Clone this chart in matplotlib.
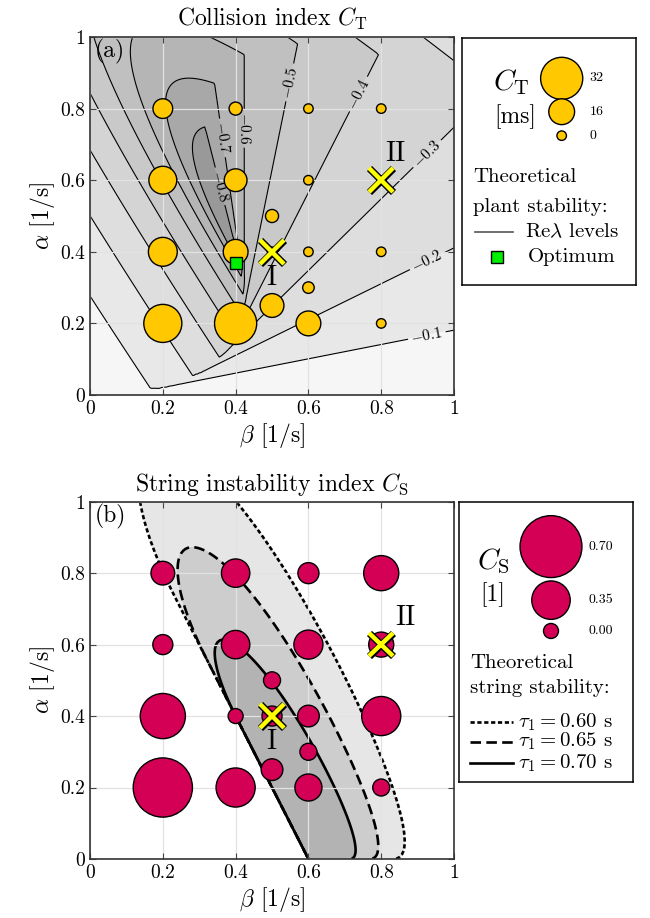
from math import factorial

import numpy as np
import matplotlib
matplotlib.use('Agg')
import matplotlib.pyplot as plt
import matplotlib.patheffects as pe

plt.rcParams['font.family'] = ['cmr10', 'DejaVu Serif']
plt.rcParams['mathtext.fontset'] = 'cm'
plt.rcParams['axes.formatter.use_mathtext'] = True
plt.rcParams['axes.unicode_minus'] = False

# model: v' = alpha*(k*h - v)(t-tau) + beta*(v_L - v)(t-tau)
k_v = 0.6
tau_plant = 0.58
tau_string = [0.60, 0.65, 0.70]

# measured points (beta, alpha)
beta_pts = [0.2, 0.4, 0.6, 0.8, 0.2, 0.4, 0.6, 0.8, 0.5, 0.2, 0.4, 0.5, 0.6, 0.8, 0.6, 0.5, 0.2, 0.4, 0.6, 0.8]
alpha_pts = [0.8, 0.8, 0.8, 0.8, 0.6, 0.6, 0.6, 0.6, 0.5, 0.4, 0.4, 0.4, 0.4, 0.4, 0.3, 0.25, 0.2, 0.2, 0.2, 0.2]
ct_vals = [10, 3.5, 0, 0, 18, 13, 0, np.nan, 3.5, 19, 15, 0, 0, 0, 2, 14, 28, 32, 15, 0]
cs_vals = [0.13, 0.20, 0.09, 0.30, 0.075, 0.20, 0.21, 0.15, 0.03, 0.45, 0.0, 0.075, 0.10, 0.36, 0.03, 0.10, 0.66, 0.36, 0.18, 0.03]

point_names = ['I', 'II']
point_beta = [0.5, 0.8]
point_alpha = [0.4, 0.6]
opt_beta, opt_alpha = 0.4, 0.37

ct_legend = [32, 16, 0]
cs_legend = [0.70, 0.35, 0.00]
re_levels = [-0.8, -0.7, -0.6, -0.5, -0.4, -0.3, -0.2, -0.1]
tick_vals = [0, 0.2, 0.4, 0.6, 0.8, 1]
tick_labels = ['0', '0.2', '0.4', '0.6', '0.8', '1']

yellow = '#ffc800'
crimson = '#d40055'


def ct_size(v):
    return ((9.5 + 1.02 * np.asarray(v, float)) * 0.72) ** 2


def cs_size(v):
    return ((15 + 67 * np.asarray(v, float)) * 0.72) ** 2


def rightmost_root(a, b, tau, n=10):
    # s^2 + exp(-s tau) (a s + b) = 0: pade start, newton on the exact equation
    c = np.array([factorial(2 * n - j) * factorial(n) /
                  (factorial(2 * n) * factorial(j) * factorial(n - j)) for j in range(n + 1)])
    m = n + 2
    coef = np.zeros((a.size, m + 1))
    for j in range(n + 1):
        coef[:, j + 2] += c[j] * tau ** j
        coef[:, j + 1] += a * c[j] * (-tau) ** j
        coef[:, j] += b * c[j] * (-tau) ** j
    coef = coef / coef[:, -1:]
    comp = np.zeros((a.size, m, m))
    comp[:, np.arange(1, m), np.arange(m - 1)] = 1.0
    comp[:, :, -1] = -coef[:, :m]
    roots = np.linalg.eigvals(comp)
    lam = roots[np.arange(a.size), np.argmax(roots.real, axis=1)]
    for _ in range(15):
        e = np.exp(-lam * tau)
        h = lam ** 2 + e * (a * lam + b)
        dh = 2 * lam + e * (a - tau * (a * lam + b))
        step = h / np.where(np.abs(dh) < 1e-12, 1e-12, dh)
        lam = np.where(np.abs(step) < 0.5, lam - step, lam)
    return lam.real


# plant stability field
bg = np.linspace(0, 1, 201)
B, A = np.meshgrid(bg, bg)
re_lam = rightmost_root((A + B).ravel(), (A * k_v).ravel(), tau_plant).reshape(A.shape)

# string stability: min over omega of (|den|^2 - |num|^2) / omega^2
bs = np.linspace(0, 1, 161)
as_ = np.linspace(0.001, 1, 161)
BS, AS = np.meshgrid(bs, as_)
omegas = np.linspace(0.001, 7, 900)
string_fields = []
for tau in tau_string:
    fmin = np.full(BS.shape, np.inf)
    for w in omegas:
        f = w ** 2 - 2 * AS * k_v * np.cos(w * tau) - 2 * (AS + BS) * w * np.sin(w * tau) + AS ** 2 + 2 * AS * BS
        fmin = np.minimum(fmin, f)
    string_fields.append(fmin)

fig = plt.figure(figsize=(6.5, 9.18), dpi=100)
ax1 = fig.add_axes([0.1385, 0.5697, 0.56, 0.390])
ax2 = fig.add_axes([0.1385, 0.0643, 0.56, 0.3892])


def style_axes(ax):
    ax.set_xlim(0, 1)
    ax.set_ylim(0, 1)
    ax.set_xticks(tick_vals)
    ax.set_yticks(tick_vals)
    ax.set_xticklabels(tick_labels, fontsize=14)
    ax.set_yticklabels(tick_labels, fontsize=14)
    ax.tick_params(direction='in', top=True, right=True, length=4, width=0.8, color='#444444')
    ax.grid(True, color='#e2e2e2', lw=0.9)
    for sp in ax.spines.values():
        sp.set_color('#333333')
        sp.set_linewidth(1.2)
    ax.set_xlabel(r'$\beta$ [1/s]', fontsize=17, labelpad=2)
    ax.set_ylabel(r'$\alpha$ [1/s]', fontsize=17, labelpad=2)


def cross(ax, b, a):
    ax.plot(b, a, 'x', ms=17, mew=3.2, color='#ffff00', zorder=6,
            path_effects=[pe.Stroke(linewidth=5.2, foreground='black'), pe.Normal()])


# ---- (a) collision index
grays = [0.60, 0.66, 0.71, 0.753, 0.79, 0.83, 0.87, 0.91, 0.965]
ax1.contourf(B, A, re_lam, levels=[-10] + re_levels + [10], colors=[str(g) for g in grays], zorder=0)
cs1 = ax1.contour(B, A, re_lam, levels=re_levels, colors='black', linewidths=0.8,
                  linestyles='solid', zorder=1)
ax1.clabel(cs1, fontsize=11, fmt=lambda v: f'${v:.1f}$', inline=True, inline_spacing=3,
           manual=[(0.925, 0.168), (0.925, 0.377), (0.93, 0.67), (0.733, 0.843),
                   (0.54, 0.875), (0.417, 0.745), (0.357, 0.717), (0.353, 0.582)])
style_axes(ax1)
ax1.set_title(r'Collision index $C_\mathrm{T}$', fontsize=17, pad=8)
ax1.scatter(beta_pts, alpha_pts, s=ct_size(ct_vals), c=yellow, edgecolors='black', linewidths=1.0, zorder=4)
ax1.plot(opt_beta, opt_alpha, 's', ms=9, mfc='#00ee00', mec='black', mew=1.0, zorder=5)
for name, b, a in zip(point_names, point_beta, point_alpha):
    cross(ax1, b, a)
ax1.text(0.499, 0.326, 'I', fontsize=20, ha='center', va='center', zorder=6)
ax1.text(0.838, 0.675, 'II', fontsize=20, ha='center', va='center', zorder=6)
ax1.text(0.012, 0.96, '(a)', fontsize=17, ha='left', va='center', zorder=6)

# ---- (b) string instability index
fills = ['#e6e6e6', '#cdcdcd', '#b3b3b3']
styles = [(0, (1.6, 1.0)), (0, (4.0, 2.0)), 'solid']
for fld, col, ls in zip(string_fields, fills, styles):
    ax2.contourf(BS, AS, fld, levels=[0, 1e6], colors=[col], zorder=0)
    ax2.contour(BS, AS, fld, levels=[0], colors='black', linewidths=1.9, linestyles=[ls], zorder=1)
style_axes(ax2)
ax2.set_title(r'String instability index $C_\mathrm{S}$', fontsize=17, pad=8)
ax2.scatter(beta_pts, alpha_pts, s=cs_size(cs_vals), c=crimson, edgecolors='black', linewidths=1.0, zorder=4)
for name, b, a in zip(point_names, point_beta, point_alpha):
    cross(ax2, b, a)
ax2.text(0.499, 0.328, 'I', fontsize=20, ha='center', va='center', zorder=6)
ax2.text(0.865, 0.674, 'II', fontsize=20, ha='center', va='center', zorder=6)
ax2.text(0.012, 0.958, '(b)', fontsize=17, ha='left', va='center', zorder=6)


def legend_axes(rect):
    lg = fig.add_axes(rect)
    lg.set_xlim(0, 1)
    lg.set_ylim(0, 1)
    lg.set_xticks([])
    lg.set_yticks([])
    for sp in lg.spines.values():
        sp.set_color('black')
        sp.set_linewidth(1.1)
    return lg


# legend (a)
lg1 = legend_axes([0.7103, 0.6892, 0.268, 0.269])
ct_ys = [0.838, 0.703, 0.606]
lg1.scatter([0.574] * 3, ct_ys, s=ct_size(ct_legend), c=yellow, edgecolors='black', linewidths=1.0, clip_on=False)
for v, y in zip(ct_legend, ct_ys):
    lg1.text(0.735, y, str(v), fontsize=10, va='center', ha='left')
lg1.text(0.287, 0.824, r'$C_\mathrm{T}$', fontsize=21, ha='center', va='center')
lg1.text(0.306, 0.683, '[ms]', fontsize=17, ha='center', va='center')
lg1.text(0.067, 0.44, 'Theoretical', fontsize=15, ha='left', va='center')
lg1.text(0.067, 0.318, 'plant stability:', fontsize=15, ha='left', va='center')
lg1.plot([0.076, 0.296], [0.215, 0.215], color='#555555', lw=1.2)
lg1.text(0.363, 0.215, r'Re$\lambda$ levels', fontsize=15, ha='left', va='center')
lg1.plot(0.204, 0.116, 's', ms=9, mfc='#00ee00', mec='black', mew=1.0)
lg1.text(0.382, 0.116, 'Optimum', fontsize=15, ha='left', va='center')

# legend (b)
lg2 = legend_axes([0.7066, 0.1478, 0.2677, 0.3053])
cs_ys = [0.841, 0.650, 0.540]
lg2.scatter([0.527] * 3, cs_ys, s=cs_size(cs_legend), c=crimson, edgecolors='black', linewidths=1.0, clip_on=False)
for v, y in zip(cs_legend, cs_ys):
    lg2.text(0.741, y, f'{v:.2f}', fontsize=10, va='center', ha='left')
lg2.text(0.195, 0.787, r'$C_\mathrm{S}$', fontsize=21, ha='center', va='center')
lg2.text(0.190, 0.668, '[1]', fontsize=17, ha='center', va='center')
lg2.text(0.0615, 0.424, 'Theoretical', fontsize=15, ha='left', va='center')
lg2.text(0.0615, 0.338, 'string stability:', fontsize=15, ha='left', va='center')
for tau, ls, y in zip(tau_string, styles, [0.216, 0.145, 0.068]):
    lg2.plot([0.0615, 0.31], [y, y], color='black', lw=1.9, linestyle=ls)
    lg2.text(0.339, y, rf'$\tau_1 = {tau:.2f}$ s', fontsize=15, ha='left', va='center')

fig.savefig('out.png', dpi=100)
